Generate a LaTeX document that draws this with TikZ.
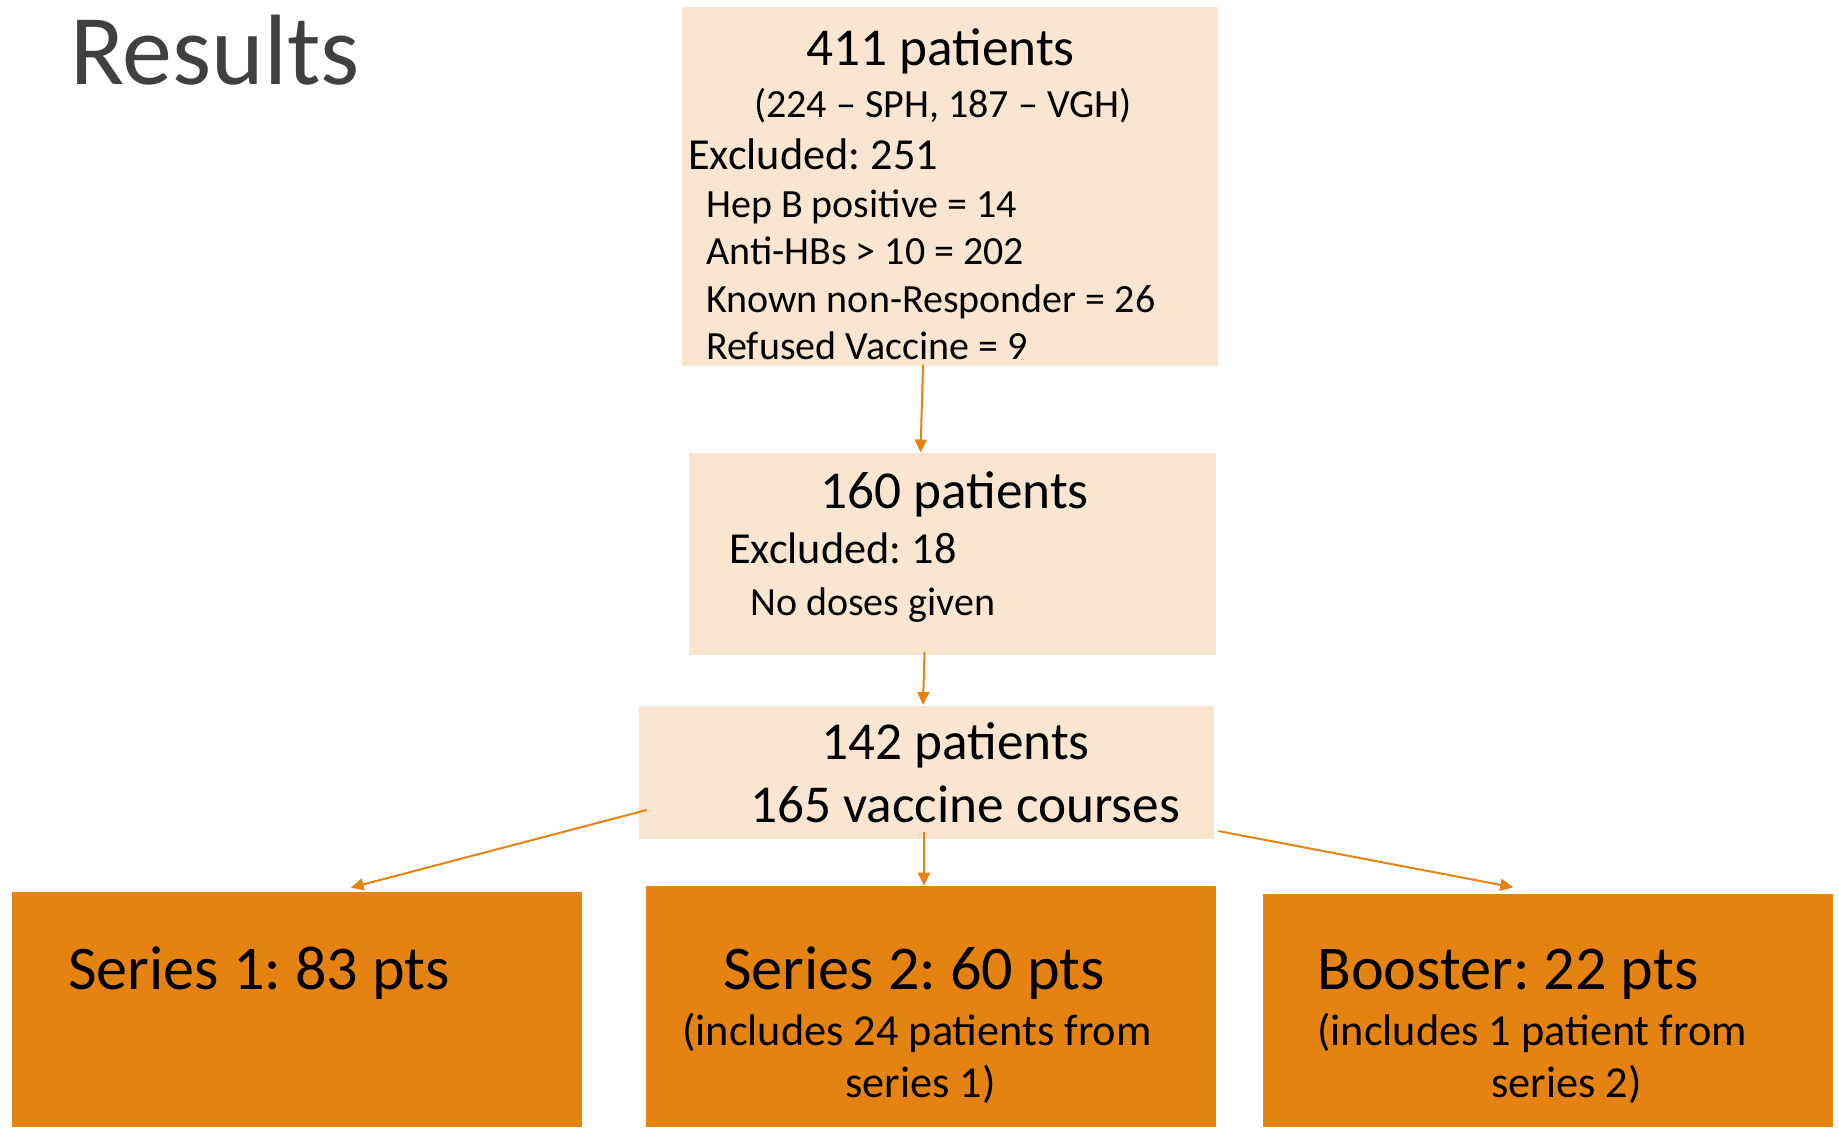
\documentclass[tikz,border=0pt]{standalone}
\usepackage{fontspec}
\setmainfont{Carlito}
\frenchspacing
\usetikzlibrary{arrows.meta}
\definecolor{accent}{HTML}{E48312}
\definecolor{pale}{HTML}{FAE6D0}
\definecolor{titlegray}{HTML}{404040}
\tikzset{
  panel/.style={fill=pale, draw=none, inner sep=0pt},
  strongpanel/.style={fill=accent, draw=none, inner sep=0pt},
  line/.style={anchor=base west, inner sep=0pt, text=black},
  big/.style={line, font=\fontsize{53.3}{64}\selectfont},
  small/.style={line, font=\fontsize{40}{48}\selectfont},
  mid/.style={line, font=\fontsize{44.3}{53}\selectfont},
  large/.style={line, font=\fontsize{62.2}{74}\selectfont},
  flow/.style={draw=accent, line width=2pt, -{Triangle[length=13pt,width=12pt]}},
}
\begin{document}
\begin{tikzpicture}[x=1pt, y=-1pt]
\useasboundingbox (0,0) rectangle (1839,1127);

% title
\node[anchor=base west, inner sep=0pt, text=titlegray, font=\fontsize{100}{112}\selectfont] (title) at (70,84) {Results};

% boxes
\node[panel, minimum width=536.5pt, minimum height=358.5pt] (b1) at (949.75,186.25) {};
\node[panel, minimum width=527pt, minimum height=202pt] (b2) at (952.5,553.5) {};
\node[panel, minimum width=575pt, minimum height=133pt] (b3) at (926.5,772.5) {};
\node[strongpanel, minimum width=570pt, minimum height=235.5pt] (b4) at (297,1009.25) {};
\node[strongpanel, minimum width=570pt, minimum height=241pt] (b5) at (931,1006.5) {};
\node[strongpanel, minimum width=570pt, minimum height=233pt] (b6) at (1548,1010.5) {};

% first box text
\node[big] (t1a) at (806,65) {411 patients};
\node[small] (t1b) at (754,117) {(224 – SPH, 187 – VGH)};
\node[mid] (t1c) at (688,169) {Excluded: 251};
\node[small] (t1d) at (706,217) {Hep B positive = 14};
\node[small] (t1e) at (706,264) {Anti-HBs > 10 = 202};
\node[small] (t1f) at (706,312) {Known non-Responder = 26};
\node[small] (t1g) at (706,359) {Refused Vaccine = 9};

% second box text
\node[big] (t2a) at (820,508) {160 patients};
\node[mid] (t2b) at (729,563) {Excluded: 18};
\node[small] (t2c) at (750,615) {No doses given};

% third box text
\node[big] (t3a) at (821,759) {142 patients};
\node[big] (t3b) at (750,822) {165 vaccine courses};

% bottom row text
\node[large] (t4a) at (68,989) {Series 1: 83 pts};
\node[large] (t5a) at (723,989) {Series 2: 60 pts};
\node[mid] (t5b) at (682,1045) {(includes 24 patients from};
\node[mid] (t5c) at (845,1097) {series 1)};
\node[large] (t6a) at (1317,989) {Booster: 22 pts};
\node[mid] (t6b) at (1317,1045) {(includes 1 patient from};
\node[mid] (t6c) at (1491,1097) {series 2)};

% connector end points
\coordinate (s12) at (923,365);
\coordinate (e12) at (920.5,452.5);
\coordinate (s23) at (924.5,652);
\coordinate (e23) at (923,705);
\coordinate (s34) at (646.7,810);
\coordinate (e34) at (350.7,887.7);
\coordinate (s35) at (924,831.5);
\coordinate (e35) at (924,885.7);
\coordinate (s36) at (1218.3,831);
\coordinate (e36) at (1513.3,887.3);

\draw[flow] (s12) -- (e12);
\draw[flow] (s23) -- (e23);
\draw[flow] (s34) -- (e34);
\draw[flow] (s35) -- (e35);
\draw[flow] (s36) -- (e36);
\end{tikzpicture}
\end{document}
